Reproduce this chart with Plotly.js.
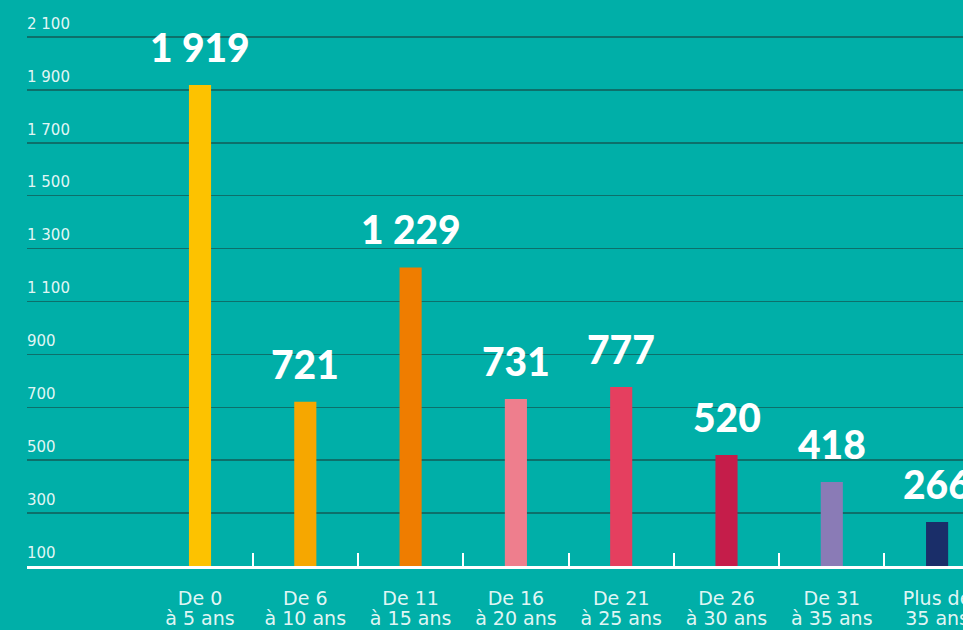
<!DOCTYPE html>
<html>
<head>
<meta charset="utf-8">
<script src="https://cdn.plot.ly/plotly-3.0.1.min.js"></script>
<style>
html,body{margin:0;padding:0;background:#00afa8;}
#chart{width:963px;height:630px;}
</style>
</head>
<body>
<div id="chart"></div>
<script>
const labelLine1 = ["De 0","De 6","De 11","De 16","De 21","De 26","De 31","Plus de"];
const labelLine2 = ["à 5 ans","à 10 ans","à 15 ans","à 20 ans","à 25 ans","à 30 ans","à 35 ans","35 ans"];
const values = [1919, 721, 1229, 731, 777, 520, 418, 266];
const barColors = ["#fdc200","#f6a700","#ef7d00","#ee7e8d","#e53f5f","#c51d4a","#8a7bb6","#1a2e69"];

const BG = "#00afa8";
const GRID = "#0d706b";
const LABEL_FONT = "'DejaVu Sans', sans-serif";
const VALUE_FONT = "Lato, 'DejaVu Sans', sans-serif";
const LABEL_COLOR = "rgba(255,255,255,0.9)";

function fmt(v){
  return String(v).replace(/\B(?=(\d{3})+(?!\d))/g, " ");
}

const idx = values.map((v,i)=>i);
const boundaries = idx.slice(0, -1).map(i => i + 0.5);

const xRange = [-1.643, 7.246];

const traces = [
  {
    type: "bar",
    x: idx,
    y: values,
    width: 0.21,
    marker: {color: barColors, line: {width: 0}},
    hoverinfo: "none",
    xaxis: "x",
    yaxis: "y"
  },
  {type: "scatter", x: [], y: [], xaxis: "x2", yaxis: "y", hoverinfo: "none"},
  {type: "scatter", x: [], y: [], xaxis: "x3", yaxis: "y", hoverinfo: "none"}
];

const annotations = values.map((v,i)=>({
  x: i, y: v, xref: "x", yref: "y",
  text: fmt(v),
  showarrow: false,
  yanchor: "bottom",
  xanchor: "center",
  yshift: 13,
  font: {family: VALUE_FONT, size: 39, color: "#ffffff", weight: 900}
}));

const labelAxisCommon = {
  type: "linear",
  range: xRange,
  tickvals: idx,
  ticks: "",
  showgrid: false,
  zeroline: false,
  ticklabeloverflow: "allow",
  tickfont: {family: LABEL_FONT, size: 19, color: LABEL_COLOR},
  automargin: false,
  fixedrange: true
};

const layout = {
  width: 963, height: 630,
  margin: {l: 27, r: 0, t: 0, b: 64, pad: 0},
  paper_bgcolor: BG,
  plot_bgcolor: BG,
  separators: ", ",
  showlegend: false,
  font: {family: LABEL_FONT, color: "#ffffff"},
  xaxis: Object.assign({}, labelAxisCommon, {
    ticktext: labelLine1,
    showline: true,
    linecolor: "#ffffff",
    linewidth: 3,
    ticklabelstandoff: 13
  }),
  xaxis3: Object.assign({}, labelAxisCommon, {
    overlaying: "x",
    anchor: "y",
    side: "bottom",
    ticktext: labelLine2,
    showline: false,
    ticklabelstandoff: 39
  }),
  xaxis2: {
    type: "linear",
    overlaying: "x",
    anchor: "y",
    side: "bottom",
    range: xRange,
    tickvals: boundaries,
    showticklabels: false,
    ticks: "inside",
    ticklen: 13,
    tickwidth: 2,
    tickcolor: "#ffffff",
    showgrid: false,
    zeroline: false,
    showline: false,
    automargin: false,
    fixedrange: true
  },
  yaxis: {
    range: [100, 2240],
    tick0: 100,
    dtick: 200,
    tickformat: ",d",
    ticks: "",
    showgrid: true,
    gridcolor: GRID,
    gridwidth: 1.5,
    zeroline: false,
    showline: false,
    ticklabelposition: "inside top",
    ticklabelstandoff: -3,
    ticklabelshift: -3,
    ticklabeloverflow: "allow",
    tickfont: {family: LABEL_FONT, size: 15, color: LABEL_COLOR},
    automargin: false,
    fixedrange: true
  },
  annotations: annotations
};

Plotly.newPlot("chart", traces, layout, {displayModeBar: false, staticPlot: true});
</script>
</body>
</html>
